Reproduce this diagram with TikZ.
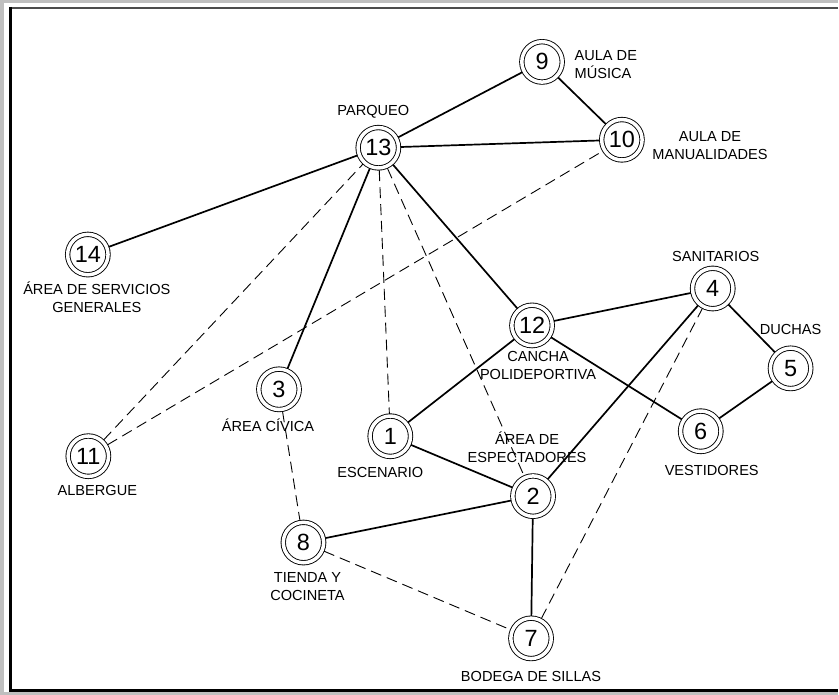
\documentclass[tikz,border=0pt]{standalone}
\usepackage{fontspec}
\setmainfont{Liberation Sans}
\usetikzlibrary{positioning}
\tikzset{
  nodo/.style = {circle, draw=black, double=white, double distance=3.5pt,
                 line width=0.9pt, minimum size=40.5pt, inner sep=0pt,
                 outer sep=2.2pt, font=\fontsize{23.5}{23.5}\selectfont},
  lbl/.style  = {inner sep=0pt, align=center,
                 font=\fontsize{14.6}{18}\selectfont},
  ln/.style   = {draw=black, line width=1.7pt},
  dln/.style  = {draw=black, line width=0.9pt, dash pattern=on 11pt off 6pt}
}

\begin{document}
\begin{tikzpicture}[x=1pt, y=-1pt]
    % marco
    \fill[black!25] (0,0) rectangle (839,696);
    \fill[white] (4,3) rectangle (839,693);
    \draw[black!70, line width=2pt] (10,8) -- (839,8);
    \draw[black, line width=3pt] (10.5,7) -- (10.5,691.5) -- (839,691.5);
    \useasboundingbox (0,0) rectangle (839,696);

    % estaciones
    \node[nodo] (n9)  at (543,62)    {9};
    \node[nodo] (n10) at (623,140)   {10};
    \node[nodo] (n13) at (379,148)   {13};
    \node[nodo] (n14) at (88,255)    {14};
    \node[nodo] (n12) at (533,326)   {12};
    \node[nodo] (n4)  at (714,289)   {4};
    \node[nodo] (n5)  at (792,369)   {5};
    \node[nodo] (n6)  at (702,432)   {6};
    \node[nodo] (n3)  at (279.5,390) {3};
    \node[nodo] (n1)  at (391,437)   {1};
    \node[nodo] (n11) at (88.5,457)  {11};
    \node[nodo] (n2)  at (534,497)   {2};
    \node[nodo] (n8)  at (304,543.5) {8};
    \node[nodo] (n7)  at (532,639.5) {7};

    % nombres
    \node[lbl, align=left, right=10pt of n9, yshift=-3pt] (l9) {AULA DE\\MÚSICA};
    \node[lbl, right=8pt of n10, yshift=-6pt] (l10) {AULA DE\\MANUALIDADES};
    \node[lbl, above=7pt of n13, xshift=-5pt] (l13) {PARQUEO};
    \node[lbl, below=5pt of n14, xshift=9pt] (l14) {ÁREA DE SERVICIOS\\GENERALES};
    \node[lbl, below=3pt of n12, xshift=6pt] (l12) {CANCHA\\POLIDEPORTIVA};
    \node[lbl, above=4pt of n4, xshift=3pt] (l4) {SANITARIOS};
    \node[lbl, above=11pt of n5] (l5) {DUCHAS};
    \node[lbl, below=12pt of n6, xshift=11pt] (l6) {VESTIDORES};
    \node[lbl, below=7pt of n3, xshift=-11pt] (l3) {ÁREA CÍVICA};
    \node[lbl, below=9pt of n1, xshift=-10pt] (l1) {ESCENARIO};
    \node[lbl, below=7pt of n11, xshift=9pt] (l11) {ALBERGUE};
    \node[lbl, above=11pt of n2, xshift=-6pt] (l2) {ÁREA DE\\ESPECTADORES};
    \node[lbl, below=7pt of n8, xshift=4pt] (l8) {TIENDA Y\\COCINETA};
    \node[lbl, below=10pt of n7] (l7) {BODEGA DE SILLAS};

    % relaciones
    \draw[ln] (n13) -- (n9);  \draw[ln] (n9) -- (n10);  \draw[ln] (n13) -- (n10);
    \draw[ln] (n13) -- (n14); \draw[ln] (n13) -- (n3);  \draw[ln] (n13) -- (n12);
    \draw[ln] (n12) -- (n4);  \draw[ln] (n12) -- (n1);  \draw[ln] (n12) -- (n6);
    \draw[ln] (n4) -- (n5);   \draw[ln] (n5) -- (n6);   \draw[ln] (n4) -- (n2);
    \draw[ln] (n1) -- (n2);   \draw[ln] (n2) -- (n8);   \draw[ln] (n2) -- (n7);
    \draw[dln] (n13) -- (n1); \draw[dln] (n13) -- (n2); \draw[dln] (n11) -- (n13);
    \draw[dln] (n11) -- (n10); \draw[dln] (n3) -- (n8); \draw[dln] (n8) -- (n7);
    \draw[dln] (n7) -- (n4);
  \end{tikzpicture}
\end{document}
